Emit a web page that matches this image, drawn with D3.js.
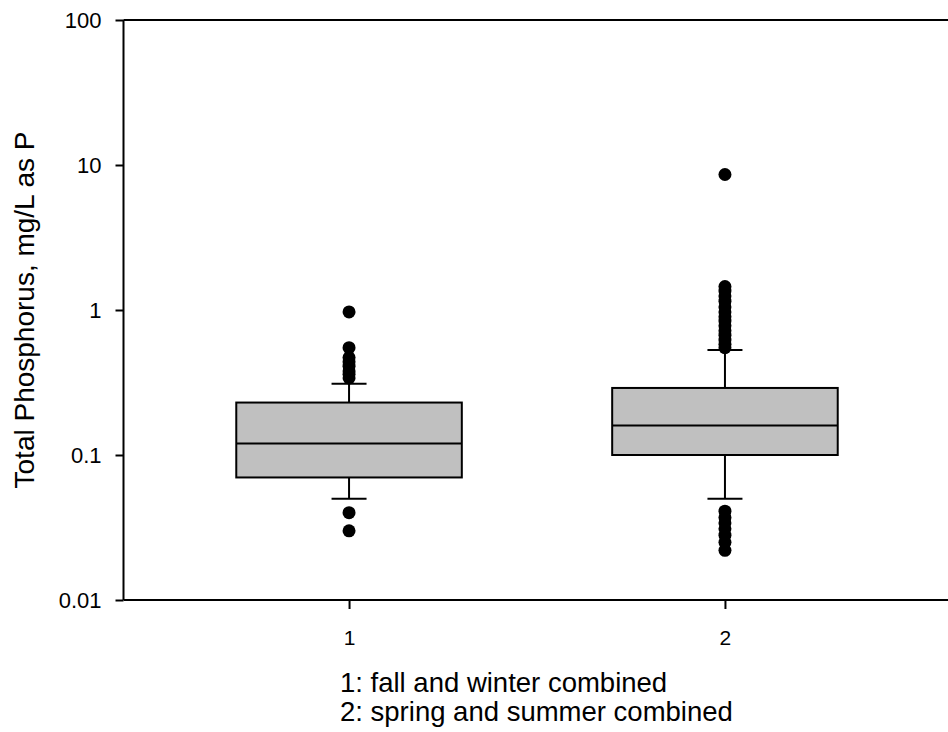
<!DOCTYPE html>
<html>
<head>
<meta charset="utf-8">
<script src="https://cdn.jsdelivr.net/npm/d3@7/dist/d3.min.js"></script>
<style>
  body { margin: 0; background: #fff; }
  svg text { font-family: Arial, "Liberation Sans", sans-serif; fill: #000; }
</style>
</head>
<body>
<div id="chart"></div>
<script>
// Box summaries
var groups = [1, 2];
var q1 = [0.07, 0.1];
var medians = [0.12, 0.16];
var q3 = [0.23, 0.29];
var whiskerLow = [0.05, 0.05];
var whiskerHigh = [0.31, 0.53];

// Outliers per group
var outliers1 = [0.97, 0.55, 0.47, 0.44, 0.41, 0.38, 0.36, 0.34, 0.04, 0.03];
var outliers2 = [8.6, 1.45, 1.35, 1.25, 1.15, 1.05, 0.97, 0.9, 0.84, 0.78, 0.72, 0.67, 0.62, 0.58, 0.55,
  0.041, 0.037, 0.034, 0.031, 0.028, 0.025, 0.022];

var yTicks = [0.01, 0.1, 1, 10, 100];
var notes = ["1: fall and winter combined", "2: spring and summer combined"];

var width = 948, height = 732;
var margins = { top: 20, left: 123.5, bottom: 132 };
var fontFamily = "Arial, 'Liberation Sans', sans-serif";

var svg = d3.select("#chart").append("svg")
  .attr("width", width)
  .attr("height", height);

var yScale = d3.scaleLog().domain([0.01, 100]).range([height - margins.bottom, margins.top]);
var xScale = d3.scaleLinear().domain([0.4, 2.6]).range([margins.left, margins.left + 827]);

var boxWidth = xScale(1.6) - xScale(1);   // box spans 0.6 units
var capHalf = 17.5;

// Axes
var yAxis = d3.axisLeft(yScale)
  .tickValues(yTicks)
  .tickFormat(function (d) { return d3.format("~g")(d); })
  .tickSize(8)
  .tickPadding(14);

var gy = svg.append("g")
  .attr("transform", "translate(" + margins.left + ",0)")
  .call(yAxis)
  .attr("font-size", 22)
  .attr("font-family", fontFamily);
gy.select(".domain").attr("stroke-width", 2).attr("d", "M0," + margins.top + "V" + yScale(0.01));
gy.selectAll(".tick line").attr("stroke-width", 2);
gy.selectAll(".tick text").attr("dy", "0.35em");

var xAxis = d3.axisBottom(xScale)
  .tickValues(groups)
  .tickFormat(d3.format("d"))
  .tickSize(9)
  .tickPadding(21);

var gx = svg.append("g")
  .attr("transform", "translate(0," + yScale(0.01) + ")")
  .call(xAxis)
  .attr("font-size", 21)
  .attr("font-family", fontFamily);
gx.select(".domain").attr("stroke-width", 2).attr("d", "M" + margins.left + ",0H" + width);
gx.selectAll(".tick line").attr("stroke-width", 2);

// Top frame line
svg.append("line")
  .attr("x1", margins.left).attr("x2", width)
  .attr("y1", yScale(100)).attr("y2", yScale(100))
  .attr("stroke", "#000").attr("stroke-width", 2);

// Boxes
var boxes = svg.append("g").selectAll("g")
  .data(groups)
  .enter()
  .append("g");

// whiskers
boxes.append("line")
  .attr("x1", function (d) { return xScale(d); })
  .attr("x2", function (d) { return xScale(d); })
  .attr("y1", function (d, i) { return yScale(q3[i]); })
  .attr("y2", function (d, i) { return yScale(whiskerHigh[i]); })
  .attr("stroke", "#000").attr("stroke-width", 2);
boxes.append("line")
  .attr("x1", function (d) { return xScale(d); })
  .attr("x2", function (d) { return xScale(d); })
  .attr("y1", function (d, i) { return yScale(q1[i]); })
  .attr("y2", function (d, i) { return yScale(whiskerLow[i]); })
  .attr("stroke", "#000").attr("stroke-width", 2);
boxes.append("line")
  .attr("x1", function (d) { return xScale(d) - capHalf; })
  .attr("x2", function (d) { return xScale(d) + capHalf; })
  .attr("y1", function (d, i) { return yScale(whiskerHigh[i]); })
  .attr("y2", function (d, i) { return yScale(whiskerHigh[i]); })
  .attr("stroke", "#000").attr("stroke-width", 2);
boxes.append("line")
  .attr("x1", function (d) { return xScale(d) - capHalf; })
  .attr("x2", function (d) { return xScale(d) + capHalf; })
  .attr("y1", function (d, i) { return yScale(whiskerLow[i]); })
  .attr("y2", function (d, i) { return yScale(whiskerLow[i]); })
  .attr("stroke", "#000").attr("stroke-width", 2);

boxes.append("rect")
  .attr("x", function (d) { return xScale(d) - boxWidth / 2; })
  .attr("y", function (d, i) { return yScale(q3[i]); })
  .attr("width", boxWidth)
  .attr("height", function (d, i) { return yScale(q1[i]) - yScale(q3[i]); })
  .attr("fill", "#c0c0c0")
  .attr("stroke", "#000").attr("stroke-width", 2);

boxes.append("line")
  .attr("x1", function (d) { return xScale(d) - boxWidth / 2; })
  .attr("x2", function (d) { return xScale(d) + boxWidth / 2; })
  .attr("y1", function (d, i) { return yScale(medians[i]); })
  .attr("y2", function (d, i) { return yScale(medians[i]); })
  .attr("stroke", "#000").attr("stroke-width", 2);

// Outlier dots
var dots = outliers1.map(function (v) { return { g: 1, v: v }; })
  .concat(outliers2.map(function (v) { return { g: 2, v: v }; }));

svg.append("g").selectAll("circle")
  .data(dots)
  .enter()
  .append("circle")
  .attr("cx", function (d) { return xScale(d.g); })
  .attr("cy", function (d) { return yScale(d.v); })
  .attr("r", 6.5)
  .attr("fill", "#000");

// Y axis title
svg.append("text")
  .attr("transform", "translate(34," + yScale(1) + ") rotate(-90)")
  .attr("text-anchor", "middle")
  .style("font-size", "28px")
  .text("Total Phosphorus, mg/L as P");

// Notes under the axis
svg.append("g").selectAll("text")
  .data(notes)
  .enter()
  .append("text")
  .attr("x", 340)
  .attr("y", function (d, i) { return 692 + i * 29; })
  .style("font-size", "27.5px")
  .text(function (d) { return d; });
</script>
</body>
</html>
